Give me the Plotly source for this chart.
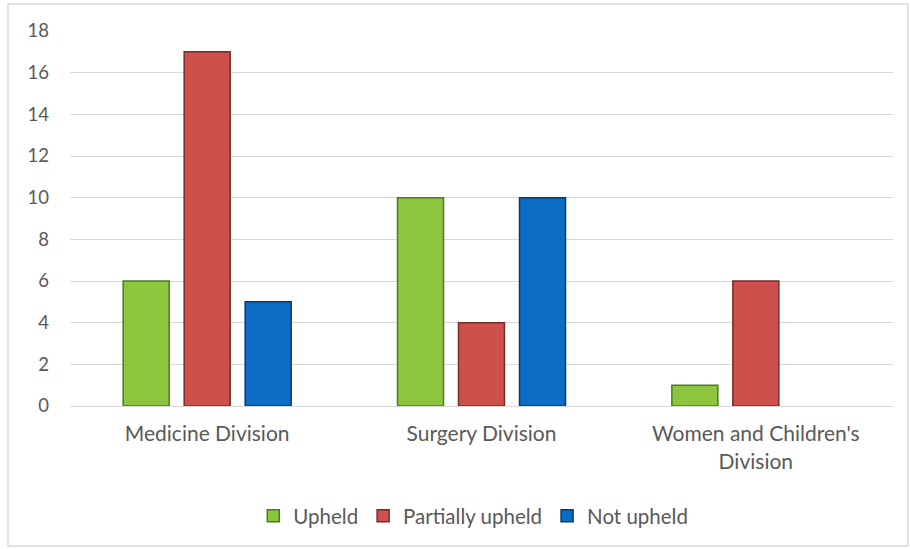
import plotly.graph_objects as go

divisions = ["Medicine Division", "Surgery Division", "Women and Children's<br>Division"]
upheld = [6, 10, 1]
partially_upheld = [17, 4, 6]
not_upheld = [5, 10, 0]
y_ticks = [0, 2, 4, 6, 8, 10, 12, 14, 16, 18]

series = [
    ("Upheld", upheld, "#8CC63F", "#4E7A22"),
    ("Partially upheld", partially_upheld, "#CD504C", "#7A2A28"),
    ("Not upheld", not_upheld, "#0B6DC3", "#0A3A6E"),
]

fig = go.Figure()
for name, vals, fill, edge in series:
    # no outline on empty bars so a zero count draws nothing
    edge_widths = [1.5 if v > 0 else 0 for v in vals]
    fig.add_trace(go.Bar(
        name=name, x=divisions, y=vals,
        marker=dict(color=fill, line=dict(color=edge, width=edge_widths)),
    ))

fig.update_layout(
    width=910, height=549,
    margin=dict(l=70, r=17, t=31, b=143),
    paper_bgcolor="white", plot_bgcolor="white",
    barmode="group", bargap=0.333, bargroupgap=0.246,
    font=dict(family="Lato, Open Sans, sans-serif", size=18, color="#595959"),
    showlegend=True,
    legend=dict(orientation="h", x=0.49, xanchor="center", y=-0.293, yanchor="middle",
                font=dict(size=20.5, color="#595959"), itemwidth=30,
                traceorder="normal"),
    shapes=[dict(type="rect", xref="paper", yref="paper",
                 x0=-0.0753, x1=1.018, y0=-0.373, y1=1.072,
                 line=dict(color="#D9D9D9", width=1.5), layer="below")],
)
fig.update_yaxes(range=[0, 18], tickvals=y_ticks, showgrid=True, gridcolor="#D9D9D9",
                 gridwidth=1.2, zeroline=False, showline=False, ticks="",
                 ticklabelstandoff=20, tickfont=dict(size=18.5))
fig.update_xaxes(showline=True, linecolor="#D9D9D9", linewidth=1.2, ticks="",
                 tickfont=dict(size=21), ticklabelstandoff=9)

fig.write_html("out.html")
